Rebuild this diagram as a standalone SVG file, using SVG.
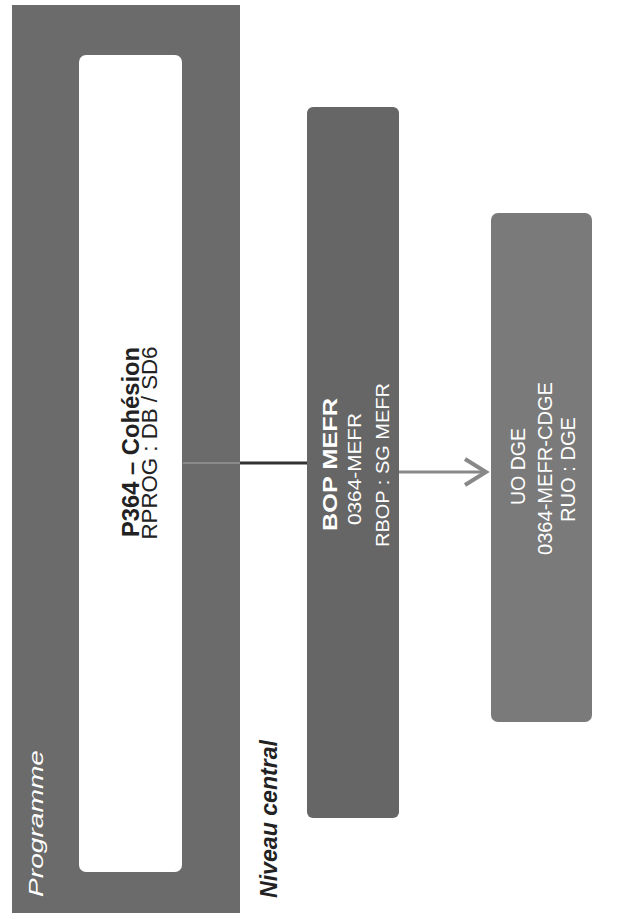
<svg xmlns="http://www.w3.org/2000/svg" width="636" height="919" viewBox="0 0 636 919">
<style>
.t{font-family:"Liberation Sans",Arial,sans-serif;fill:#fff}
.b{font-weight:bold}
</style>
<rect width="636" height="919" fill="#fff"/>
<g id="programme">
<rect x="12" y="5" width="228" height="908" fill="#6b6b6b"/>
<rect x="79" y="55" width="103" height="817" rx="7" fill="#fff"/>
<text class="t" font-style="italic" font-size="21" transform="translate(43,897) rotate(-90)" textLength="147" lengthAdjust="spacingAndGlyphs">Programme</text>
<text class="t b" font-size="23.5" fill="#222" style="fill:#222" transform="translate(139,442) rotate(-90)" text-anchor="middle" textLength="190" lengthAdjust="spacingAndGlyphs">P364 – Cohésion</text>
<text class="t" font-size="22" style="fill:#222" transform="translate(157,443) rotate(-90)" text-anchor="middle" textLength="193" lengthAdjust="spacingAndGlyphs">RPROG : DB / SD6</text>
</g>
<g id="niveau">
<text class="t b" font-style="italic" font-size="24" style="fill:#222" transform="translate(277,898) rotate(-90)" textLength="158" lengthAdjust="spacingAndGlyphs">Niveau central</text>
</g>
<g id="bop">
<rect x="307" y="107" width="92" height="711" rx="6" fill="#666"/>
<text class="t b" font-size="21" transform="translate(337,531) rotate(-90)" textLength="133" lengthAdjust="spacingAndGlyphs">BOP MEFR</text>
<text class="t" font-size="19" transform="translate(361,525) rotate(-90)" textLength="112" lengthAdjust="spacingAndGlyphs">0364-MEFR</text>
<text class="t" font-size="19" transform="translate(389,547) rotate(-90)" textLength="164" lengthAdjust="spacingAndGlyphs">RBOP : SG MEFR</text>
</g>
<g id="uo">
<rect x="491" y="213" width="101" height="509" rx="7" fill="#7a7a7a"/>
<text class="t" font-size="20" transform="translate(525,505) rotate(-90)" textLength="77" lengthAdjust="spacingAndGlyphs">UO DGE</text>
<text class="t" font-size="20" transform="translate(552,555) rotate(-90)" textLength="173" lengthAdjust="spacingAndGlyphs">0364-MEFR-CDGE</text>
<text class="t" font-size="20" transform="translate(575,522) rotate(-90)" textLength="105" lengthAdjust="spacingAndGlyphs">RUO : DGE</text>
</g>
<g id="connectors" fill="none">
<line x1="183" y1="463" x2="240" y2="463" stroke="#8a8a8a" stroke-width="2"/>
<line x1="240" y1="463" x2="307" y2="463" stroke="#333" stroke-width="3"/>
<line x1="399" y1="472" x2="484" y2="472" stroke="#888" stroke-width="3"/>
<polyline points="465,459 486,472 465,485" stroke="#888" stroke-width="4" stroke-linejoin="miter"/>
</g>
</svg>
